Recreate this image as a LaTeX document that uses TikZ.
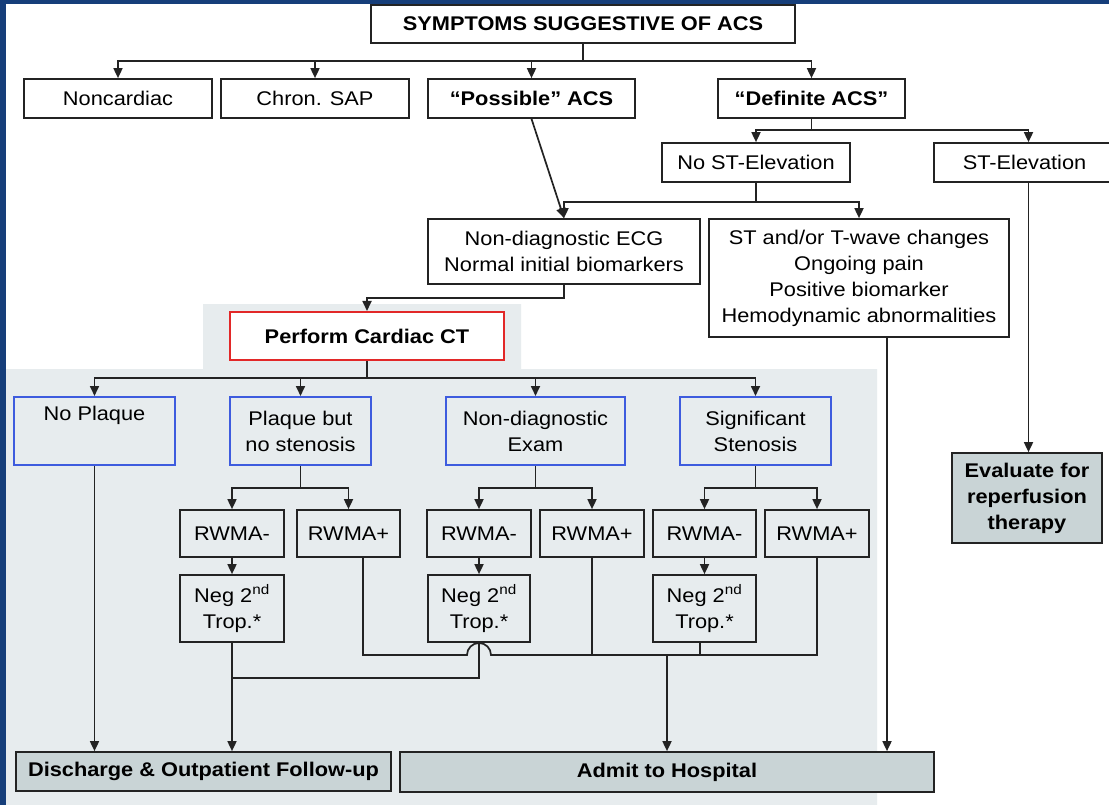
\documentclass[tikz,border=0pt]{standalone}
\usepackage{fontspec}
\newfontfamily\af[FakeStretch=1.1]{Liberation Sans}
\usetikzlibrary{arrows.meta}
\definecolor{frameblue}{RGB}{22,62,122}
\definecolor{linec}{RGB}{35,35,35}
\definecolor{shadec}{RGB}{231,236,238}
\definecolor{finalc}{RGB}{201,212,214}
\definecolor{boxblue}{RGB}{62,92,222}
\definecolor{boxred}{RGB}{226,40,40}
\begin{document}
\begin{tikzpicture}[x=1pt,y=-1pt,
  txt/.style={font=\af\fontsize{19.8}{26}\selectfont},
  btxt/.style={font=\af\bfseries\fontsize{19.8}{26}\selectfont},
  box/.style={draw=linec, line width=1.7pt, inner sep=0pt, align=center, text=black, txt},
  wb/.style={box, fill=white},
  gb/.style={box, fill=shadec},
  bb/.style={box, draw=boxblue, fill=shadec, line width=2pt},
  rb/.style={box, draw=boxred, fill=white, btxt, line width=2pt},
  fb/.style={box, fill=finalc, btxt},
  sz/.style 2 args={minimum width=#1pt, minimum height=#2pt},
  ln/.style={draw=linec, line width=1.7pt},
  arr/.style={ln, -{Triangle[length=10pt,width=9pt]}}]
\useasboundingbox (0,0) rectangle (1109,805);
\clip (0,0) rectangle (1109,805);
\fill[white] (0,0) rectangle (1109,805);
% shaded CT region
\fill[shadec] (203,304) -- (521,304) -- (521,369) -- (877,369) -- (877,805)
  -- (6,805) -- (6,369) -- (203,369) -- cycle;

% nodes
\node[wb, btxt, sz={424}{38}] (title) at (583,24) {SYMPTOMS SUGGESTIVE OF ACS};
\node[wb, sz={188}{39}] (nonc) at (118,98.5) {Noncardiac};
\node[wb, sz={188}{39}] (chron) at (315,98.5) {Chron. SAP};
\node[wb, btxt, sz={207}{39}] (pos) at (531.5,98.5) {“Possible” ACS};
\node[wb, btxt, sz={187}{39}] (def) at (811.5,98.5) {“Definite ACS”};
\node[wb, sz={188}{39}] (nost) at (756,162.5) {No ST-Elevation};
\node[wb, sz={181}{39}, text width=181pt] (stel) at (1024.5,162.5) {ST-Elevation};
\node[wb, sz={272}{65}] (nde) at (564,251.5) {Non-diagnostic ECG\\Normal initial biomarkers};
\node[wb, sz={300}{118}] (stt) at (859,278) {ST and/or T-wave changes\\Ongoing pain\\Positive biomarker\\Hemodynamic abnormalities};
\node[rb, sz={274}{48}] (ct) at (367,336) {Perform Cardiac CT};
\node[bb, sz={161}{68}] (np) at (94.5,431) {No Plaque\\[2pt]\strut};
\node[bb, sz={141}{68}] (pq) at (300.5,431) {Plaque but\\no stenosis};
\node[bb, sz={179}{68}] (nex) at (535.5,431) {Non-diagnostic\\Exam};
\node[bb, sz={151}{68}] (sig) at (755.5,431) {Significant\\Stenosis};
\node[gb, sz={104}{47}] (rm1) at (232,533.5) {RWMA-};
\node[gb, sz={103}{47}] (rp1) at (348.5,533.5) {RWMA+};
\node[gb, sz={104}{47}] (rm2) at (479,533.5) {RWMA-};
\node[gb, sz={104}{47}] (rp2) at (592,533.5) {RWMA+};
\node[gb, sz={103}{47}] (rm3) at (704.5,533.5) {RWMA-};
\node[gb, sz={104}{47}] (rp3) at (817,533.5) {RWMA+};
\node[gb, sz={104}{67}] (n1) at (232,608.5) {Neg 2\textsuperscript{nd}\\Trop.*};
\node[gb, sz={102}{67}] (n2) at (479,608.5) {Neg 2\textsuperscript{nd}\\Trop.*};
\node[gb, sz={103}{67}] (n3) at (704.5,608.5) {Neg 2\textsuperscript{nd}\\Trop.*};
\node[fb, sz={375}{39}] (dis) at (203.5,771.5) {Discharge \& Outpatient Follow-up};
\node[fb, sz={534}{40}] (adm) at (667,772) {Admit to Hospital};
\node[fb, sz={150}{90}] (evl) at (1027,498) {Evaluate for\\reperfusion\\therapy};

% title branch
\coordinate (jt) at (583,61);
\draw[ln] (title.south) -- (jt);
\draw[arr] (jt) -| (nonc.north);
\draw[arr] (jt) -| (chron.north);
\draw[arr] (jt) -| (pos.north);
\draw[arr] (jt) -| (def.north);
% definite branch
\coordinate (jd) at (811.5,130);
\draw[ln] (def.south) -- (jd);
\draw[arr] (jd) -| (nost.north);
\draw[arr] (jd) -| ([xshift=4pt]stel.north);
% possible
\draw[arr] (pos.south) -- (nde.north);
% no ST branch
\coordinate (jn) at (756,202);
\draw[ln] (nost.south) -- (jn);
\draw[arr] (jn) -| (nde.north);
\draw[arr] (jn) -| (stt.north);
% ST elevation
\draw[arr] ([xshift=4pt]stel.south) -- ([xshift=4pt]stel.south |- evl.north);
% ST/T changes to admit
\draw[arr] ([xshift=28pt]stt.south) -- ([xshift=28pt]stt.south |- adm.north);
% to CT
\draw[arr] (nde.south) -- ++(0,13) -| (ct.north);
% CT branch
\coordinate (jc) at (367,378);
\draw[ln] (ct.south) -- (jc);
\draw[arr] (jc) -| (np.north);
\draw[arr] (jc) -| (pq.north);
\draw[arr] (jc) -| (nex.north);
\draw[arr] (jc) -| (sig.north);
% plaque / exam / stenosis branches
\coordinate (jp) at (300.5,488);
\coordinate (jx) at (535.5,488);
\coordinate (js) at (755.5,488);
\draw[ln] (pq.south) -- (jp);
\draw[arr] (jp) -| (rm1.north);
\draw[arr] (jp) -| (rp1.north);
\draw[ln] (nex.south) -- (jx);
\draw[arr] (jx) -| (rm2.north);
\draw[arr] (jx) -| (rp2.north);
\draw[ln] (sig.south) -- (js);
\draw[arr] (js) -| (rm3.north);
\draw[arr] (js) -| (rp3.north);
% RWMA- to Neg
\draw[arr] (rm1.south) -- (n1.north);
\draw[arr] (rm2.south) -- (n2.north);
\draw[arr] (rm3.south) -- (n3.north);
% to discharge
\draw[arr] (np.south) -- (np.south |- dis.north);
\draw[arr] (n1.south) -- (n1.south |- dis.north);
\coordinate (jl) at (0,678);
\draw[ln] (n2.south) -- (n2.south |- jl) -- (n1.south |- jl);
% to admit
\coordinate (jb) at (0,655);
\draw[ln] ([xshift=14.5pt]rp1.south) -- ([xshift=14.5pt]rp1.south |- jb)
  -- ([xshift=-12pt]n2.south |- jb) arc[start angle=180, end angle=0, radius=12pt]
  -- (rp3.south |- jb) -- (rp3.south);
\draw[ln] (rp2.south) -- (rp2.south |- jb);
\draw[ln] ([xshift=-4.5pt]n3.south) -- ([xshift=-4.5pt]n3.south |- jb);
\draw[arr] (adm.north |- jb) -- (adm.north);

% frame
\fill[frameblue] (0,0) rectangle (1109,4);
\fill[frameblue] (0,0) rectangle (6,805);
\end{tikzpicture}
\end{document}
